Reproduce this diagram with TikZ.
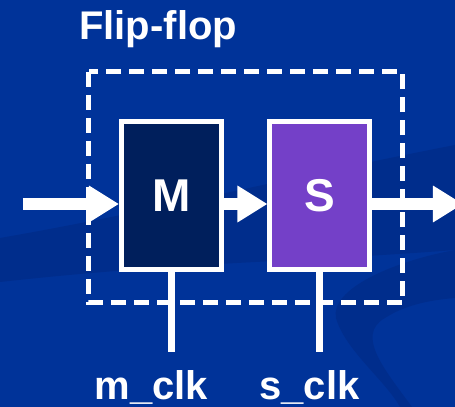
\documentclass[tikz,border=0pt]{standalone}
\usepackage{fontspec}
\setmainfont{Liberation Sans}
\usetikzlibrary{arrows.meta}
\definecolor{bgblue}{HTML}{003399}
\definecolor{swooshblue}{HTML}{002D8C}
\definecolor{masterfill}{HTML}{001F5C}
\definecolor{slavefill}{HTML}{7440C8}
\tikzset{
  latch/.style={draw=white, line width=3.75pt, minimum width=75pt, minimum height=111pt,
    inner sep=0pt, text=white, font=\bfseries\fontsize{34.5}{40}\selectfont},
  wire/.style={white, line width=8.5pt, -{Triangle[length=22.5pt,width=26pt]}},
  clockwire/.style={white, line width=5.25pt},
  frame/.style={white, line width=3.75pt, dash pattern=on 11.25pt off 6pt},
  label/.style={text=white, font=\bfseries\fontsize{30}{36}\selectfont, inner sep=0pt}
}
\begin{document}
\begin{tikzpicture}[x=0.75pt, y=-0.75pt]
\useasboundingbox (0,0) rectangle (455,407);
% backdrop with its darker swooshes
\fill[bgblue] (0,0) rectangle (455,407);
\fill[swooshblue] (0,238) .. controls (150,212) and (300,175) .. (455,145)
  -- (455,250) .. controls (300,262) and (180,262) .. (0,282) -- cycle;
\fill[swooshblue] (455,250) .. controls (390,262) and (330,290) .. (336,318)
  .. controls (345,350) and (385,380) .. (400,407) -- (412,407)
  .. controls (385,370) and (355,335) .. (385,318)
  .. controls (405,305) and (430,300) .. (455,298) -- cycle;

% title
\node[label, anchor=base west] (title) at (79,40) {Flip-flop};

% dashed outline of the flip-flop
\draw[frame] (89,72) rectangle (403,303);

% master and slave latches
\node[latch, fill=masterfill] (M) at (171.5,195.5) {M};
\node[latch, fill=slavefill] (S) at (320,195.5) {S};

% data path
\coordinate (din) at (23,204);
\coordinate (dout) at (463,204);
\draw[wire] (din) -- (din -| M.west);
\draw[wire] (din -| M.east) -- (din -| S.west);
\draw[wire] (din -| S.east) -- (dout);

% clock inputs
\coordinate (mclk) at (171.5,352);
\coordinate (sclk) at (320,352);
\draw[clockwire] (M.south) -- (mclk);
\draw[clockwire] (S.south) -- (sclk);

\node[label, anchor=base] (mlabel) at (151.5,400) {m\_clk};
\node[label, anchor=base] (slabel) at (309.5,400) {s\_clk};
\end{tikzpicture}
\end{document}
